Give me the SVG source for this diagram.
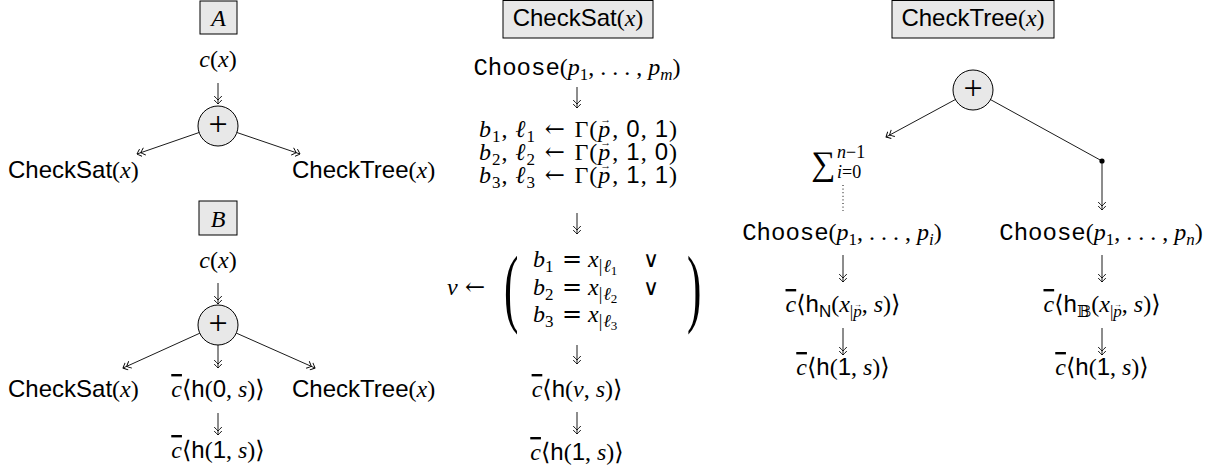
<svg xmlns="http://www.w3.org/2000/svg" width="1215" height="473" viewBox="0 0 1215 473">
<style>
.t{font-family:"Liberation Serif","DejaVu Serif",serif;font-size:24px;fill:#000}
.i{font-style:italic}
.sf{font-family:"Liberation Sans","DejaVu Sans",sans-serif;font-style:normal}
.tt{font-family:"Liberation Mono","DejaVu Sans Mono",monospace;font-style:normal}
.dj{font-family:"DejaVu Serif",serif;font-style:normal}
.s{font-size:17px}
.vec{font-size:11px;font-style:normal}
.vs{font-size:8px;font-style:normal}
.ol{text-decoration:overline}
.pl{font-size:34px}
.box{fill:#e8e8e8;stroke:#000;stroke-width:1}
.op{fill:#e8e8e8;stroke:#000;stroke-width:1}
.e{stroke:#000;stroke-width:0.9;fill:none}
.a{stroke:#000;stroke-width:0.9;fill:none;marker-end:url(#dbl)}
.dot{stroke:#000;stroke-width:1;fill:none;stroke-dasharray:1 2.6}
</style>
<defs>
<marker id="dbl" viewBox="-10 -5 12 10" refX="0" refY="0" markerWidth="12" markerHeight="10" markerUnits="userSpaceOnUse" orient="auto">
<path d="M-4,-3.8 Q-0.9,-1 0,0 Q-0.9,1 -4,3.8 M-8,-3.8 Q-4.9,-1 -4,0 Q-4.9,1 -8,3.8" fill="none" stroke="#000" stroke-width="0.9"/>
</marker>
</defs>
<rect width="1215" height="473" fill="#fff"/>

<!-- Diagram A -->
<g id="A-label"><rect class="box" x="200" y="1" width="37" height="33"/><text class="t i" x="218.5" y="26" text-anchor="middle">A</text></g>
<g id="A-cx"><text class="t" x="218" y="67" text-anchor="middle"><tspan class="i">c</tspan>(<tspan class="i">x</tspan>)</text></g>
<g id="A-plus"><circle class="op" cx="218" cy="126" r="20"/><text class="t pl" x="218" y="134.5" text-anchor="middle">+</text></g>
<g id="A-checksat"><text class="t" x="8" y="178"><tspan class="sf">CheckSat</tspan>(<tspan class="i">x</tspan>)</text></g>
<g id="A-checktree"><text class="t" x="292" y="178"><tspan class="sf">CheckTree</tspan>(<tspan class="i">x</tspan>)</text></g>

<!-- Diagram B -->
<g id="B-label"><rect class="box" x="199" y="201" width="38" height="34"/><text class="t i" x="218" y="227" text-anchor="middle">B</text></g>
<g id="B-cx"><text class="t" x="218" y="268" text-anchor="middle"><tspan class="i">c</tspan>(<tspan class="i">x</tspan>)</text></g>
<g id="B-plus"><circle class="op" cx="218" cy="325" r="20"/><text class="t pl" x="218" y="333.5" text-anchor="middle">+</text></g>
<g id="B-checksat"><text class="t" x="8" y="397"><tspan class="sf">CheckSat</tspan>(<tspan class="i">x</tspan>)</text></g>
<g id="B-h0"><text class="t" x="218" y="397" text-anchor="middle"><tspan class="i ol">c</tspan>⟨<tspan class="sf">h</tspan>(<tspan class="sf">0</tspan>, <tspan class="i">s</tspan>)⟩</text></g>
<g id="B-checktree"><text class="t" x="292" y="397"><tspan class="sf">CheckTree</tspan>(<tspan class="i">x</tspan>)</text></g>
<g id="B-h1"><text class="t" x="218" y="458" text-anchor="middle"><tspan class="i ol">c</tspan>⟨<tspan class="sf">h</tspan>(<tspan class="sf">1</tspan>, <tspan class="i">s</tspan>)⟩</text></g>

<!-- CheckSat -->
<g id="S-label"><rect class="box" x="503" y="0.5" width="150" height="37.5"/><text class="t" x="578" y="26" text-anchor="middle"><tspan class="sf">CheckSat</tspan>(<tspan class="i">x</tspan>)</text></g>
<g id="S-choose"><text class="t" x="577" y="75" text-anchor="middle"><tspan class="tt">Choose</tspan>(<tspan class="i">p</tspan><tspan class="s" dy="5">1</tspan><tspan dy="-5">, . . . , </tspan><tspan class="i">p</tspan><tspan class="s i" dy="5">m</tspan><tspan dy="-5">)</tspan></text></g>
<g id="S-gamma">
<text class="t" x="578" y="137" text-anchor="middle" textLength="198" lengthAdjust="spacing"><tspan class="i">b</tspan><tspan class="s" dy="5">1</tspan><tspan dy="-5">, </tspan><tspan class="i">ℓ</tspan><tspan class="s" dy="5">1</tspan><tspan dy="-5" class="dj"> ← </tspan><tspan>Γ(</tspan><tspan class="i">p</tspan><tspan class="vec" dx="-11" dy="-14">→</tspan><tspan dy="14">, </tspan><tspan class="sf">0</tspan>, <tspan class="sf">1</tspan>)</text>
<text class="t" x="578" y="160" text-anchor="middle" textLength="198" lengthAdjust="spacing"><tspan class="i">b</tspan><tspan class="s" dy="5">2</tspan><tspan dy="-5">, </tspan><tspan class="i">ℓ</tspan><tspan class="s" dy="5">2</tspan><tspan dy="-5" class="dj"> ← </tspan><tspan>Γ(</tspan><tspan class="i">p</tspan><tspan class="vec" dx="-11" dy="-14">→</tspan><tspan dy="14">, </tspan><tspan class="sf">1</tspan>, <tspan class="sf">0</tspan>)</text>
<text class="t" x="578" y="183" text-anchor="middle" textLength="198" lengthAdjust="spacing"><tspan class="i">b</tspan><tspan class="s" dy="5">3</tspan><tspan dy="-5">, </tspan><tspan class="i">ℓ</tspan><tspan class="s" dy="5">3</tspan><tspan dy="-5" class="dj"> ← </tspan><tspan>Γ(</tspan><tspan class="i">p</tspan><tspan class="vec" dx="-11" dy="-14">→</tspan><tspan dy="14">, </tspan><tspan class="sf">1</tspan>, <tspan class="sf">1</tspan>)</text>
</g>
<g id="S-v">
<text class="t" x="447" y="295"><tspan class="i">v</tspan><tspan class="dj" x="465">←</tspan></text>
<text class="t" transform="translate(504,316) scale(1.8,3.6)" font-size="30">(</text>
<text class="t" transform="translate(687,316) scale(1.8,3.6)" font-size="30">)</text>
<text class="t" y="267"><tspan x="533" class="i">b</tspan><tspan class="s" dy="5">1</tspan><tspan class="dj" x="562" dy="-5">=</tspan><tspan class="i" x="588">x</tspan><tspan font-size="18" dy="5">|</tspan><tspan font-size="18" class="i" dx="1">ℓ</tspan><tspan font-size="13" dy="3">1</tspan><tspan class="dj" x="643" dy="-8" font-size="22">∨</tspan></text>
<text class="t" y="295"><tspan x="533" class="i">b</tspan><tspan class="s" dy="5">2</tspan><tspan class="dj" x="562" dy="-5">=</tspan><tspan class="i" x="588">x</tspan><tspan font-size="18" dy="5">|</tspan><tspan font-size="18" class="i" dx="1">ℓ</tspan><tspan font-size="13" dy="3">2</tspan><tspan class="dj" x="643" dy="-8" font-size="22">∨</tspan></text>
<text class="t" y="322"><tspan x="533" class="i">b</tspan><tspan class="s" dy="5">3</tspan><tspan class="dj" x="562" dy="-5">=</tspan><tspan class="i" x="588">x</tspan><tspan font-size="18" dy="5">|</tspan><tspan font-size="18" class="i" dx="1">ℓ</tspan><tspan font-size="13" dy="3">3</tspan></text>
</g>
<g id="S-hv"><text class="t" x="577" y="397" text-anchor="middle"><tspan class="i ol">c</tspan>⟨<tspan class="sf">h</tspan>(<tspan class="i">v</tspan>, <tspan class="i">s</tspan>)⟩</text></g>
<g id="S-h1"><text class="t" x="577" y="460" text-anchor="middle"><tspan class="i ol">c</tspan>⟨<tspan class="sf">h</tspan>(<tspan class="sf">1</tspan>, <tspan class="i">s</tspan>)⟩</text></g>

<!-- CheckTree -->
<g id="T-label"><rect class="box" x="892" y="0.5" width="162" height="37.5"/><text class="t" x="973" y="26" text-anchor="middle"><tspan class="sf">CheckTree</tspan>(<tspan class="i">x</tspan>)</text></g>
<g id="T-plus"><circle class="op" cx="973" cy="90" r="20"/><text class="t pl" x="973" y="98.5" text-anchor="middle">+</text></g>
<g id="T-sum"><text class="t" x="811" y="175"><tspan font-size="34">∑</tspan><tspan font-size="18" class="i" x="837" y="158">n</tspan><tspan font-size="18">−1</tspan><tspan font-size="18" class="i" x="837" y="178">i</tspan><tspan font-size="18">=0</tspan></text></g>
<g id="T-choose-i"><text class="t" x="842" y="240" text-anchor="middle"><tspan class="tt">Choose</tspan>(<tspan class="i">p</tspan><tspan class="s" dy="5">1</tspan><tspan dy="-5">, . . . , </tspan><tspan class="i">p</tspan><tspan class="s i" dy="5">i</tspan><tspan dy="-5">)</tspan></text></g>
<g id="T-choose-n"><text class="t" x="1101" y="240" text-anchor="middle"><tspan class="tt">Choose</tspan>(<tspan class="i">p</tspan><tspan class="s" dy="5">1</tspan><tspan dy="-5">, . . . , </tspan><tspan class="i">p</tspan><tspan class="s i" dy="5">n</tspan><tspan dy="-5">)</tspan></text></g>
<g id="T-hN"><text class="t" x="843" y="312" text-anchor="middle"><tspan class="i ol">c</tspan>⟨<tspan class="sf">h</tspan><tspan class="s sf" dy="5">N</tspan><tspan dy="-5">(</tspan><tspan class="i">x</tspan><tspan class="s" dy="5">|</tspan><tspan class="s i">p</tspan><tspan class="vs" dx="-8" dy="-10">→</tspan><tspan dy="5">, </tspan><tspan class="i">s</tspan>)⟩</text></g>
<g id="T-hB"><text class="t" x="1102" y="312" text-anchor="middle"><tspan class="i ol">c</tspan>⟨<tspan class="sf">h</tspan><tspan class="s dj" dy="5">𝔹</tspan><tspan dy="-5">(</tspan><tspan class="i">x</tspan><tspan class="s" dy="5">|</tspan><tspan class="s i">p</tspan><tspan class="vs" dx="-8" dy="-10">→</tspan><tspan dy="5">, </tspan><tspan class="i">s</tspan>)⟩</text></g>
<g id="T-h1a"><text class="t" x="843" y="375" text-anchor="middle"><tspan class="i ol">c</tspan>⟨<tspan class="sf">h</tspan>(<tspan class="sf">1</tspan>, <tspan class="i">s</tspan>)⟩</text></g>
<g id="T-h1b"><text class="t" x="1102" y="375" text-anchor="middle"><tspan class="i ol">c</tspan>⟨<tspan class="sf">h</tspan>(<tspan class="sf">1</tspan>, <tspan class="i">s</tspan>)⟩</text></g>

<g id="connectors">
<line class="a" x1="218" y1="83" x2="218" y2="104"/>
<line class="a" x1="199.1" y1="132.5" x2="137" y2="154"/>
<line class="a" x1="236.9" y1="132.5" x2="300" y2="154"/>
<line class="a" x1="218" y1="283" x2="218" y2="304"/>
<line class="a" x1="199.8" y1="333.2" x2="123" y2="368"/>
<line class="a" x1="218" y1="345" x2="218" y2="368"/>
<line class="a" x1="236.3" y1="333.1" x2="315" y2="368"/>
<line class="a" x1="218" y1="413" x2="218" y2="435"/>
<line class="a" x1="577" y1="87" x2="577" y2="108"/>
<line class="a" x1="577" y1="213" x2="577" y2="234"/>
<line class="a" x1="577" y1="345" x2="577" y2="364"/>
<line class="a" x1="577" y1="412" x2="577" y2="434"/>
<line class="a" x1="955.4" y1="99.5" x2="886" y2="137"/>
<line class="e" x1="990.5" y1="99.6" x2="1102" y2="161"/>
<circle cx="1102" cy="161" r="2.6" fill="#000"/>
<line class="a" x1="1102" y1="161" x2="1102" y2="210"/>
<line class="dot" x1="843" y1="185" x2="843" y2="211"/>
<line class="a" x1="843" y1="255" x2="843" y2="282"/>
<line class="a" x1="1102" y1="255" x2="1102" y2="282"/>
<line class="a" x1="843" y1="328" x2="843" y2="355"/>
<line class="a" x1="1102" y1="328" x2="1102" y2="355"/>
</g>
</svg>
